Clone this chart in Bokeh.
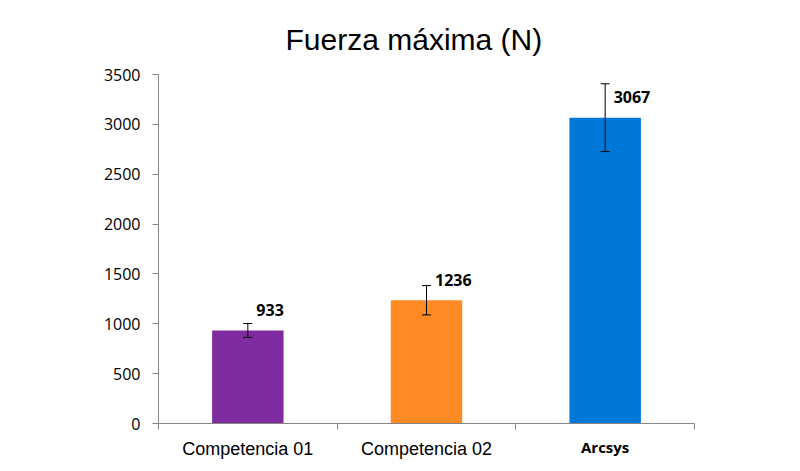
from bokeh.plotting import figure
from bokeh.models import (ColumnDataSource, FixedTicker, Range1d, Title, Whisker,
                          TeeHead, LabelSet, LinearAxis)
from bokeh.core.properties import value
from bokeh.embed import file_html
from bokeh.resources import INLINE

# ---- data ----
categories = ["Competencia 01", "Competencia 02", "Arcsys"]
values = [933, 1236, 3067]
errors = [70, 147, 340]
colors = ["#7F2CA1", "#FF8A26", "#0078D8"]
y_ticks = [0, 500, 1000, 1500, 2000, 2500, 3000, 3500]
title_text = "Fuerza máxima (N)"
bold_category = "Arcsys"

n = len(categories)
centers = [i + 0.5 for i in range(n)]
src = ColumnDataSource(dict(
    x=centers, cat=categories, top=values, color=colors,
    upper=[v + e for v, e in zip(values, errors)],
    lower=[v - e for v, e in zip(values, errors)],
    label=[str(v) for v in values],
))

p = figure(width=800, height=471, output_backend="svg", toolbar_location=None,
           x_range=Range1d(0, n), y_range=Range1d(0, y_ticks[-1]),
           min_border_left=158, min_border_right=106, min_border_top=74,
           min_border_bottom=48)
p.outline_line_color = None
p.background_fill_color = "white"
p.border_fill_color = "white"
p.xgrid.visible = False
p.ygrid.visible = False

xa = p.below[0]
ya = p.left[0]

p.title = Title(text=title_text, align="left", offset=127,
                text_font="Liberation Sans", text_font_size="30px",
                text_font_style="normal", text_color="black", standoff=37)

p.vbar(x="x", top="top", width=0.4, fill_color="color", line_color=None, source=src)

p.add_layout(Whisker(base="x", upper="upper", lower="lower", source=src,
                     dimension="height", line_color="black", line_width=1,
                     level="annotation",
                     upper_head=TeeHead(size=9, line_color="black", line_width=1),
                     lower_head=TeeHead(size=9, line_color="black", line_width=1)))

p.add_layout(LabelSet(x="x", y="top", text="label", source=src,
                      x_offset=8.5, y_offset=14.5, text_align="left",
                      text_baseline="alphabetic", text_font=value("Open Sans"),
                      text_font_style="bold", text_font_size="16px",
                      text_color="black"))

# y axis
ya.ticker = FixedTicker(ticks=y_ticks)
ya.axis_line_color = "#868686"
ya.major_tick_line_color = "#868686"
ya.major_tick_out = 6
ya.major_tick_in = 0
ya.minor_tick_line_color = None
ya.major_label_standoff = 12
ya.major_label_text_font = "Open Sans"
ya.major_label_text_font_size = "16px"
ya.major_label_text_color = "black"

# x axis (line, boundary ticks, bold category label)
xa.ticker = FixedTicker(ticks=centers, minor_ticks=list(range(n + 1)))
xa.axis_line_color = "#868686"
xa.major_tick_line_color = None
xa.major_tick_out = 0
xa.major_tick_in = 0
xa.minor_tick_line_color = "#868686"
xa.minor_tick_out = 6
xa.minor_tick_in = 0
xa.major_label_standoff = 7
xa.major_label_text_font = "Open Sans"
xa.major_label_text_font_style = "bold"
xa.major_label_text_font_size = "15px"
xa.major_label_text_color = "black"
xa.major_label_overrides = {c: (t if t == bold_category else "")
                            for c, t in zip(centers, categories)}

# second x axis carrying the regular category labels
xb = LinearAxis(ticker=FixedTicker(ticks=centers, minor_ticks=[]))
xb.axis_line_color = None
xb.major_tick_line_color = None
xb.minor_tick_line_color = None
xb.major_tick_out = 0
xb.major_tick_in = 0
xb.minor_tick_out = 0
xb.minor_tick_in = 0
xb.major_label_standoff = -21
xb.major_label_text_font = "Liberation Sans"
xb.major_label_text_font_size = "18px"
xb.major_label_text_color = "black"
xb.major_label_overrides = {c: ("" if t == bold_category else t)
                            for c, t in zip(centers, categories)}
p.add_layout(xb, "below")

open("out.html", "w").write(file_html(p, INLINE))
